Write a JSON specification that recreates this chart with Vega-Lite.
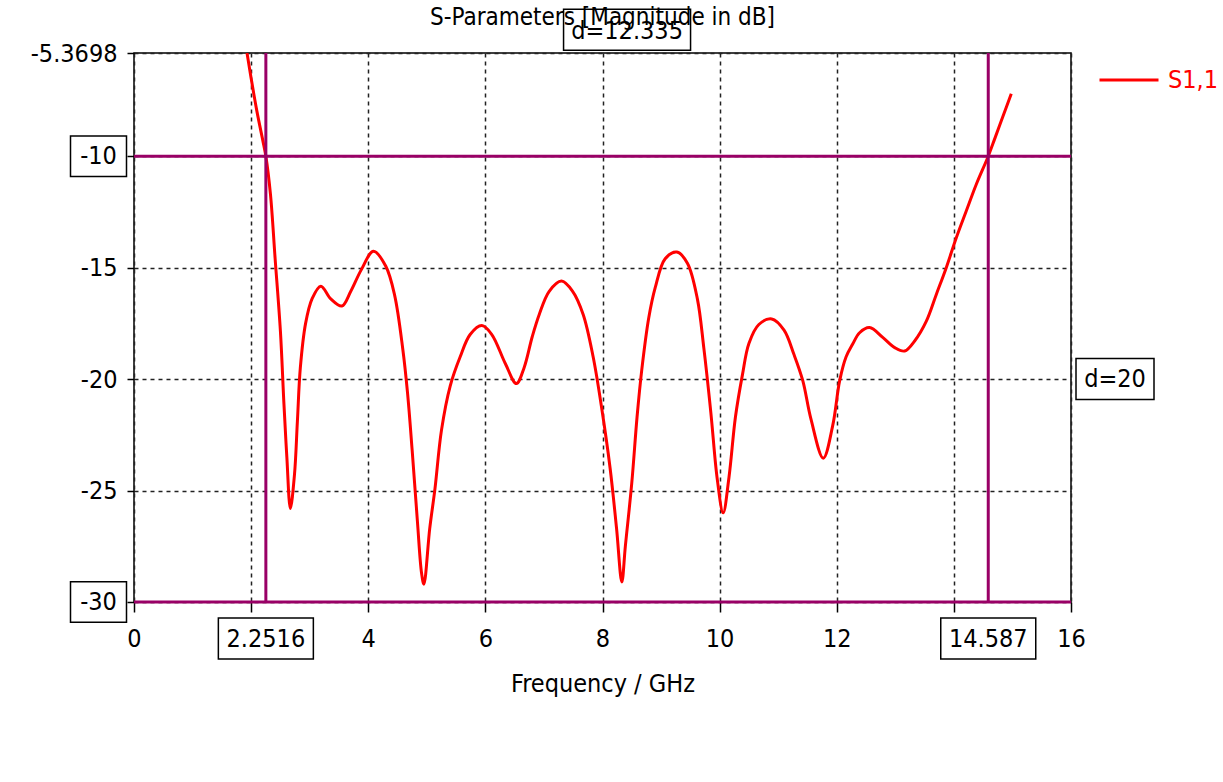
{
  "$schema": "https://vega.github.io/schema/vega-lite/v6.json",
  "width": 937,
  "height": 549,
  "autosize": "none",
  "padding": {"left": 134, "top": 53, "right": 152, "bottom": 180},
  "background": "white",
  "config": {
    "font": "DejaVu Sans Condensed",
    "view": {"stroke": "#000000", "strokeWidth": 1.5}
  },
  "title": {
    "text": "S-Parameters [Magnitude in dB]",
    "frame": "group",
    "anchor": "middle",
    "fontSize": 24,
    "fontWeight": "normal",
    "color": "#000000",
    "offset": -24
  },
  "datasets": {
    "s11": [
      {"freq": 1.93, "db": -5.3698},
      {"freq": 2.0, "db": -6.5},
      {"freq": 2.1, "db": -8.0},
      {"freq": 2.2, "db": -9.3},
      {"freq": 2.2516, "db": -10},
      {"freq": 2.33, "db": -11.7},
      {"freq": 2.41, "db": -14.6},
      {"freq": 2.5, "db": -17.85},
      {"freq": 2.56, "db": -21.1},
      {"freq": 2.61, "db": -23.5},
      {"freq": 2.67, "db": -25.8},
      {"freq": 2.74, "db": -24.3},
      {"freq": 2.79, "db": -21.9},
      {"freq": 2.84, "db": -19.5},
      {"freq": 2.93, "db": -17.5},
      {"freq": 3.04, "db": -16.4},
      {"freq": 3.19, "db": -15.83},
      {"freq": 3.36, "db": -16.4},
      {"freq": 3.55, "db": -16.72},
      {"freq": 3.7, "db": -16.07},
      {"freq": 3.88, "db": -15.1},
      {"freq": 4.09, "db": -14.26},
      {"freq": 4.3, "db": -14.94},
      {"freq": 4.45, "db": -16.23},
      {"freq": 4.59, "db": -18.66},
      {"freq": 4.67, "db": -20.6},
      {"freq": 4.75, "db": -23.2},
      {"freq": 4.84, "db": -26.4},
      {"freq": 4.91, "db": -28.7},
      {"freq": 4.95, "db": -29.2},
      {"freq": 5.05, "db": -26.7},
      {"freq": 5.14, "db": -24.9},
      {"freq": 5.25, "db": -22.3},
      {"freq": 5.4, "db": -20.3},
      {"freq": 5.57, "db": -19.0},
      {"freq": 5.74, "db": -18.0},
      {"freq": 5.94, "db": -17.6},
      {"freq": 6.11, "db": -18.0},
      {"freq": 6.34, "db": -19.3},
      {"freq": 6.53, "db": -20.2},
      {"freq": 6.66, "db": -19.5},
      {"freq": 6.8, "db": -18.1},
      {"freq": 6.92, "db": -17.1},
      {"freq": 7.09, "db": -16.06},
      {"freq": 7.3, "db": -15.6},
      {"freq": 7.49, "db": -16.06},
      {"freq": 7.67, "db": -17.1},
      {"freq": 7.84, "db": -19.0},
      {"freq": 7.98, "db": -21.2},
      {"freq": 8.13, "db": -24.0},
      {"freq": 8.24, "db": -26.7},
      {"freq": 8.33, "db": -29.1},
      {"freq": 8.39, "db": -27.5},
      {"freq": 8.5, "db": -24.66},
      {"freq": 8.59, "db": -21.7},
      {"freq": 8.67, "db": -19.6},
      {"freq": 8.79, "db": -17.25},
      {"freq": 8.9, "db": -15.9},
      {"freq": 9.07, "db": -14.6},
      {"freq": 9.27, "db": -14.3},
      {"freq": 9.45, "db": -14.8},
      {"freq": 9.62, "db": -16.4},
      {"freq": 9.73, "db": -18.6},
      {"freq": 9.85, "db": -21.5},
      {"freq": 9.96, "db": -24.5},
      {"freq": 10.06, "db": -26.0},
      {"freq": 10.16, "db": -24.4},
      {"freq": 10.27, "db": -21.7},
      {"freq": 10.39, "db": -19.8},
      {"freq": 10.5, "db": -18.4},
      {"freq": 10.67, "db": -17.55},
      {"freq": 10.89, "db": -17.3},
      {"freq": 11.1, "db": -17.8},
      {"freq": 11.27, "db": -18.9},
      {"freq": 11.42, "db": -20.07},
      {"freq": 11.56, "db": -21.8},
      {"freq": 11.77, "db": -23.55},
      {"freq": 11.93, "db": -22.1},
      {"freq": 12.05, "db": -20.07},
      {"freq": 12.16, "db": -19.0},
      {"freq": 12.27, "db": -18.44},
      {"freq": 12.39, "db": -17.92},
      {"freq": 12.56, "db": -17.69},
      {"freq": 12.79, "db": -18.14},
      {"freq": 12.99, "db": -18.59},
      {"freq": 13.16, "db": -18.74},
      {"freq": 13.33, "db": -18.29},
      {"freq": 13.53, "db": -17.4},
      {"freq": 13.7, "db": -16.2},
      {"freq": 13.87, "db": -15.0},
      {"freq": 14.04, "db": -13.67},
      {"freq": 14.21, "db": -12.47},
      {"freq": 14.38, "db": -11.28},
      {"freq": 14.587, "db": -10},
      {"freq": 14.7, "db": -9.2},
      {"freq": 14.84, "db": -8.2},
      {"freq": 14.98, "db": -7.2}
    ],
    "freqMarkers": [{"freq": 2.2516}, {"freq": 14.587}],
    "dbMarkers": [{"db": -10}, {"db": -30}],
    "freqSpan": [{"freq": 8.4193, "db": -5.3698, "lab": "d=12.335"}],
    "dbSpan": [{"freq": 16, "db": -20, "lab": "d=20"}]
  },
  "layer": [
    {
      "data": {"name": "s11"},
      "mark": {"type": "line", "strokeWidth": 3, "clip": true, "interpolate": "catmull-rom"},
      "encoding": {
        "x": {
          "field": "freq",
          "type": "quantitative",
          "scale": {"domain": [0, 16], "nice": false, "zero": false},
          "axis": {
            "values": [0, 2, 4, 6, 8, 10, 12, 14, 16],
            "format": "d",
            "labelExpr": "datum.value == 2 || datum.value == 14 ? '' : datum.label",
            "title": "Frequency / GHz",
            "titleFontSize": 25,
            "titleFontWeight": "normal",
            "titleColor": "#000000",
            "titlePadding": 20,
            "labelFontSize": 25,
            "labelColor": "#000000",
            "labelPadding": 14,
            "labelFlush": false,
            "labelOverlap": false,
            "tickColor": "#000000",
            "tickSize": 10,
            "tickWidth": 1.5,
            "domain": false,
            "grid": true,
            "gridDash": [4, 4],
            "gridColor": "#222222",
            "gridWidth": 1.5,
            "gridOpacity": 1
          }
        },
        "y": {
          "field": "db",
          "type": "quantitative",
          "scale": {"domain": [-30, -5.3698], "nice": false, "zero": false},
          "axis": {
            "values": [-5.3698, -10, -15, -20, -25, -30],
            "labelExpr": "datum.value == -10 || datum.value == -30 ? '' : replace(format(datum.value, '.5~r'), '\u2212', '-')",
            "title": null,
            "labelFontSize": 25,
            "labelColor": "#000000",
            "labelPadding": 10,
            "labelFlush": false,
            "labelOverlap": false,
            "tickColor": "#000000",
            "tickSize": 7,
            "tickWidth": 1.5,
            "domain": false,
            "grid": true,
            "gridDash": [4, 4],
            "gridColor": "#222222",
            "gridWidth": 1.5,
            "gridOpacity": 1
          }
        },
        "color": {
          "datum": "S1,1",
          "scale": {"range": ["#ff0000"]},
          "legend": {
            "orient": "none",
            "legendX": 964,
            "legendY": -4,
            "title": null,
            "padding": 0,
            "symbolType": "stroke",
            "symbolStrokeWidth": 3,
            "symbolSize": 3481,
            "labelColor": "#ff0000",
            "labelFontSize": 25,
            "labelOffset": 8
          }
        }
      }
    },
    {
      "data": {"name": "freqMarkers"},
      "mark": {"type": "rule", "color": "#990066", "strokeWidth": 3},
      "encoding": {"x": {"field": "freq", "type": "quantitative"}}
    },
    {
      "data": {"name": "dbMarkers"},
      "mark": {"type": "rule", "color": "#990066", "strokeWidth": 3},
      "encoding": {"y": {"field": "db", "type": "quantitative"}}
    },
    {
      "data": {"name": "freqMarkers"},
      "mark": {
        "type": "point",
        "shape": "M-1,-0.4316L1,-0.4316L1,0.4316L-1,0.4316Z",
        "size": 9025,
        "filled": false,
        "fill": "white",
        "fillOpacity": 1,
        "stroke": "#000000",
        "strokeWidth": 1.5,
        "opacity": 1,
        "yOffset": 36.5
      },
      "encoding": {
        "x": {"field": "freq", "type": "quantitative"},
        "y": {"datum": -30}
      }
    },
    {
      "data": {"name": "freqMarkers"},
      "transform": [{"calculate": "format(datum.freq, '.5~r')", "as": "lab"}],
      "mark": {"type": "text", "fontSize": 25, "color": "#000000", "align": "center", "baseline": "middle", "dy": 37},
      "encoding": {
        "x": {"field": "freq", "type": "quantitative"},
        "y": {"datum": -30},
        "text": {"field": "lab"}
      }
    },
    {
      "data": {"name": "dbMarkers"},
      "mark": {
        "type": "point",
        "shape": "M-1,-0.725L1,-0.725L1,0.725L-1,0.725Z",
        "size": 3136,
        "filled": false,
        "fill": "white",
        "fillOpacity": 1,
        "stroke": "#000000",
        "strokeWidth": 1.5,
        "opacity": 1,
        "xOffset": -35.5
      },
      "encoding": {
        "x": {"datum": 0},
        "y": {"field": "db", "type": "quantitative"}
      }
    },
    {
      "data": {"name": "dbMarkers"},
      "transform": [{"calculate": "replace(format(datum.db, '.5~r'), '\u2212', '-')", "as": "lab"}],
      "mark": {"type": "text", "fontSize": 25, "color": "#000000", "align": "center", "baseline": "middle", "dx": -35.5},
      "encoding": {
        "x": {"datum": 0},
        "y": {"field": "db", "type": "quantitative"},
        "text": {"field": "lab"}
      }
    },
    {
      "data": {"name": "freqSpan"},
      "mark": {
        "type": "point",
        "shape": "M-1,-0.323L1,-0.323L1,0.323L-1,0.323Z",
        "size": 16129,
        "filled": false,
        "stroke": "#000000",
        "strokeWidth": 1.5,
        "opacity": 1,
        "yOffset": -23.3
      },
      "encoding": {
        "x": {"field": "freq", "type": "quantitative"},
        "y": {"field": "db", "type": "quantitative"}
      }
    },
    {
      "data": {"name": "freqSpan"},
      "mark": {"type": "text", "fontSize": 25, "color": "#000000", "align": "center", "baseline": "middle", "dy": -22},
      "encoding": {
        "x": {"field": "freq", "type": "quantitative"},
        "y": {"field": "db", "type": "quantitative"},
        "text": {"field": "lab"}
      }
    },
    {
      "data": {"name": "dbSpan"},
      "mark": {
        "type": "point",
        "shape": "M-1,-0.526L1,-0.526L1,0.526L-1,0.526Z",
        "size": 6084,
        "filled": false,
        "fill": "white",
        "fillOpacity": 1,
        "stroke": "#000000",
        "strokeWidth": 1.5,
        "opacity": 1,
        "xOffset": 44
      },
      "encoding": {
        "x": {"field": "freq", "type": "quantitative"},
        "y": {"field": "db", "type": "quantitative"}
      }
    },
    {
      "data": {"name": "dbSpan"},
      "mark": {"type": "text", "fontSize": 25, "color": "#000000", "align": "center", "baseline": "middle", "dx": 44},
      "encoding": {
        "x": {"field": "freq", "type": "quantitative"},
        "y": {"field": "db", "type": "quantitative"},
        "text": {"field": "lab"}
      }
    }
  ]
}
